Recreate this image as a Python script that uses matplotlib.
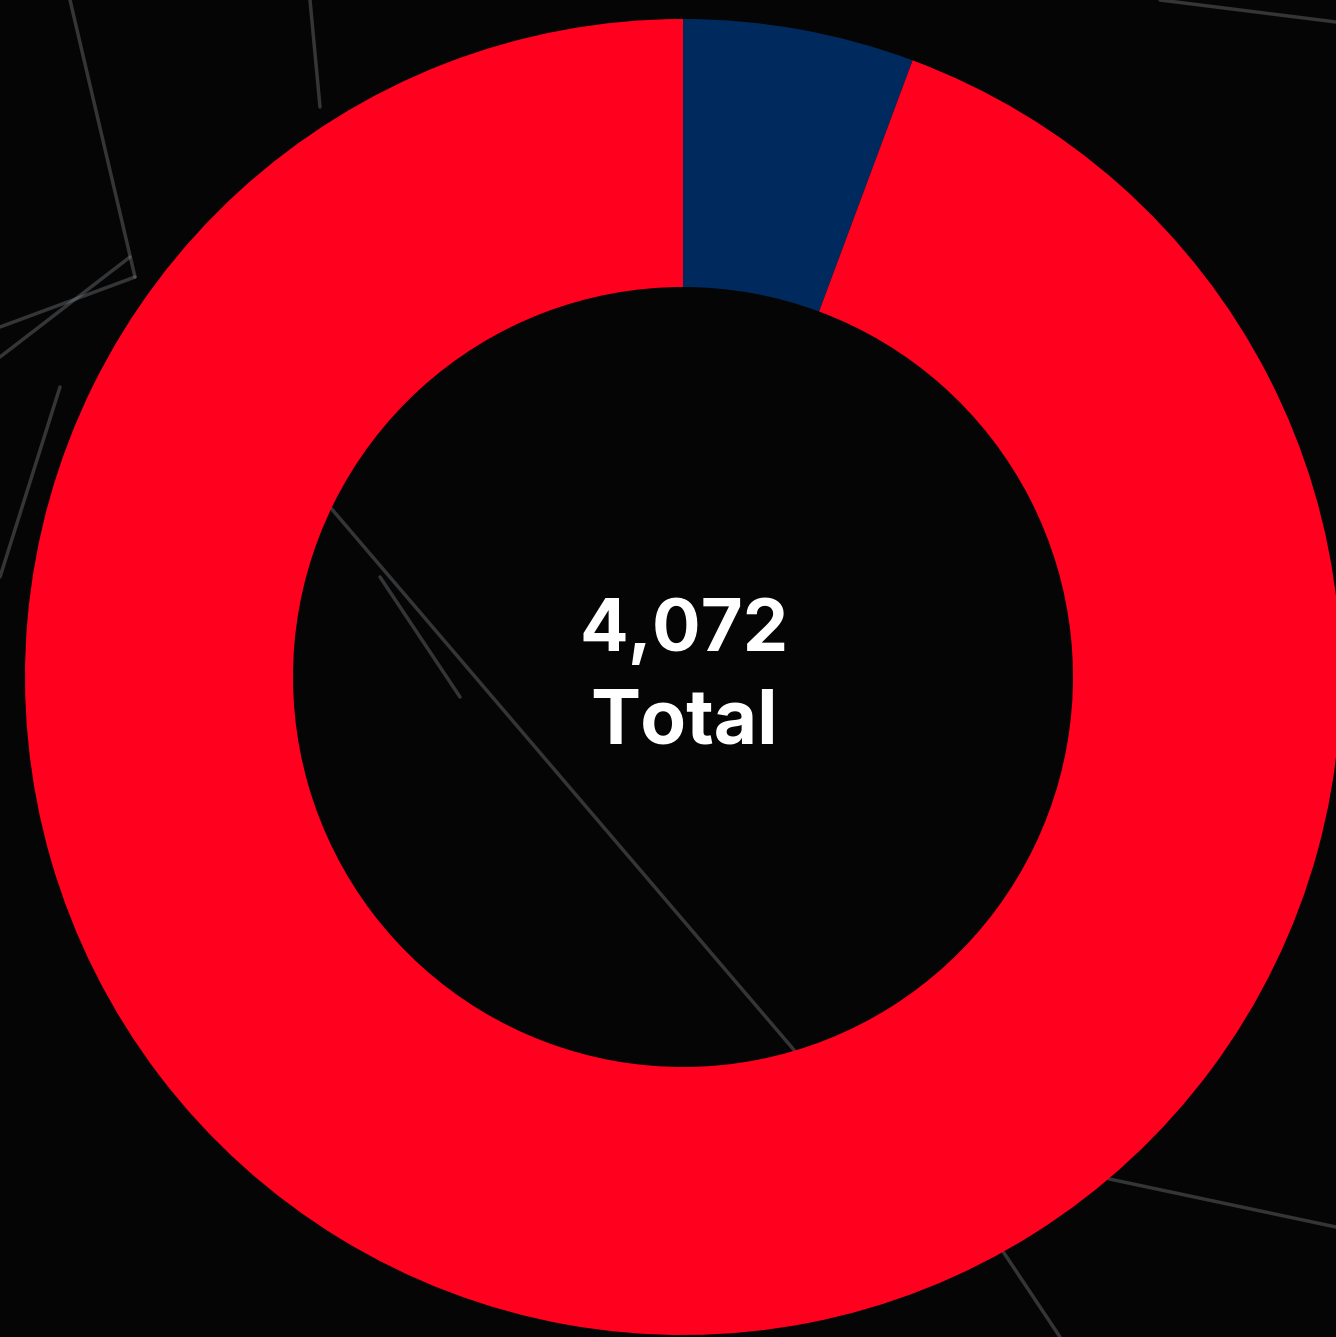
import matplotlib.pyplot as plt

labels = ['Red', 'Blue']
values = [3841, 231]
colors = ['#ff001f', '#002a5e']
total_text = '4,072'
sub_text = 'Total'

W, H = 1336, 1337
fig = plt.figure(figsize=(W / 100, H / 100), dpi=100)
fig.patch.set_facecolor('#050505')
ax = fig.add_axes([0, 0, 1, 1])
ax.set_facecolor('#050505')

# faint cracked-glass streaks in the background
cracks = [
    ((70, 1337), (135, 1060)),
    ((135, 1060), (0, 1010)),
    ((310, 1337), (320, 1230)),
    ((0, 980), (130, 1080)),
    ((330, 830), (800, 280)),
    ((380, 760), (460, 640)),
    ((1000, 90), (1060, 0)),
    ((1100, 160), (1336, 110)),
    ((1160, 1337), (1336, 1315)),
    ((0, 760), (60, 950)),
]
for (x0, y0), (x1, y1) in cracks:
    ax.plot([x0, x1], [y0, y1], color='#8a8f96', lw=2.5, alpha=0.35, zorder=0,
            solid_capstyle='round')

# blue slice first, starting at 12 o'clock and going clockwise
ax.pie(values[::-1], colors=colors[::-1], startangle=90, counterclock=False,
       center=(683, 660), radius=658, frame=True,
       wedgeprops=dict(width=268, edgecolor='none', linewidth=0))
ax.set_xlim(0, W)
ax.set_ylim(0, H)
ax.set_aspect('equal')
ax.axis('off')

ax.text(684, 705, total_text, ha='center', va='center', color='white',
        fontsize=52, fontweight='bold', family='Inter')
ax.text(684, 613, sub_text, ha='center', va='center', color='white',
        fontsize=54, fontweight='bold', family='Inter')

fig.savefig('out.png', dpi=100, facecolor=fig.get_facecolor())
